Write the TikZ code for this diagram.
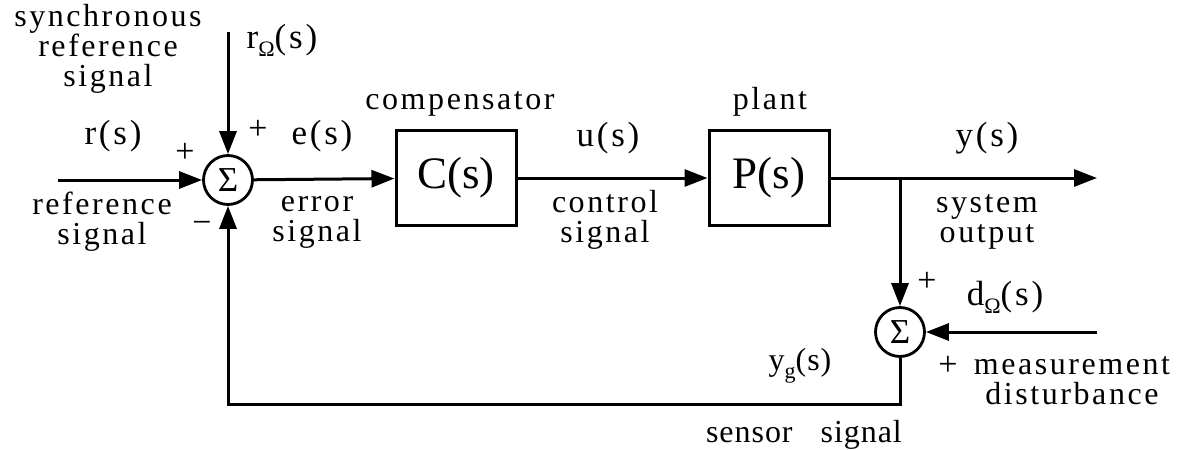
\documentclass[tikz,border=0pt]{standalone}
\usepackage{fontspec}
\setmainfont{Liberation Serif}
\newfontfamily\lsfont[LetterSpace=8]{Liberation Serif}
\newfontfamily\lsfontb[LetterSpace=3]{Liberation Serif}
\usetikzlibrary{arrows.meta}
\tikzset{
  lbl/.style={inner sep=0pt, align=center, font=\lsfont\fontsize{32}{30}\selectfont},
  sig/.style={inner sep=0pt, font=\lsfont\fontsize{35}{35}\selectfont},
  plain/.style={inner sep=0pt, font=\lsfontb\fontsize{32}{32}\selectfont},
  pm/.style={inner sep=0pt, font=\fontsize{34}{34}\selectfont},
  blk/.style={draw, line width=3pt, minimum width=120pt, minimum height=95pt, inner sep=0pt, font=\fontsize{45}{45}\selectfont},
  sumnode/.style={draw, circle, line width=2.8pt, minimum size=49pt, inner sep=0pt, font=\fontsize{35}{35}\selectfont},
  arr/.style={line width=3pt, -{Triangle[length=23pt,width=17pt]}},
}
\newcommand{\subsc}[1]{\raisebox{-8pt}{\fontsize{22}{22}\selectfont #1}}
\begin{document}
\begin{tikzpicture}[x=1pt,y=-1pt]
\useasboundingbox (0,0) rectangle (1179,450);
% blocks
\node[sumnode] (s1) at (228,180) {Σ};
\node[blk] (C) at (456,178) {C(s)};
\node[blk] (P) at (769,178) {P(s)};
\node[sumnode] (s2) at (900,332) {Σ};
% coordinates
\coordinate (rin) at (58,180);
\coordinate (rtop) at (228,32);
\coordinate (br) at (900,178);
\coordinate (out) at (1097,178);
\coordinate (din) at (1097,332);
\coordinate (fbl) at (228,404);
% connectors
\draw[arr] (rin) -- (s1);
\draw[arr] (rtop) -- (s1);
\draw[arr] (s1) -- (C);
\draw[arr] (C) -- (P);
\draw[arr] (P) -- (out);
\draw[arr] (br) -- (s2);
\draw[arr] (din) -- (s2);
\draw[arr] (s2.south) |- (fbl) -- (s1.south);
% labels
\node[lbl] (t1) at (108,49) {synchronous\\reference\\signal};
\node[sig] (rom) at (282,40) {r\subsc{Ω}(s)};
\node[sig] (rs) at (113,136) {r(s)};
\node[pm] (p1) at (185,153) {+};
\node[pm] (p2) at (258,130) {+};
\node[sig] (es) at (322,136) {e(s)};
\node[lbl] (t4) at (102,222) {reference\\signal};
\node[lbl] (t6) at (317,222) {error\\signal};
\node[pm] (m1) at (202,227) {−};
\node[lbl] (t8) at (460,104) {compensator};
\node[sig] (us) at (608,138) {u(s)};
\node[lbl] (t9) at (605,220) {control\\signal};
\node[lbl] (t11) at (770,102) {plant};
\node[sig] (ys) at (987,138) {y(s)};
\node[lbl] (t12) at (987,222) {system\\output};
\node[pm] (p3) at (927,282) {+};
\node[sig] (dom) at (1005,297) {d\subsc{Ω}(s)};
\node[pm] (p4) at (948,366) {+};
\node[lbl, align=center] (t14) at (1072,381) {measurement\\disturbance};
\node[plain] (yg) at (800,366) {y\subsc{g}(s)};
\node[plain] (t16) at (804,435) {sensor\hspace{28pt}signal};
\end{tikzpicture}
\end{document}
